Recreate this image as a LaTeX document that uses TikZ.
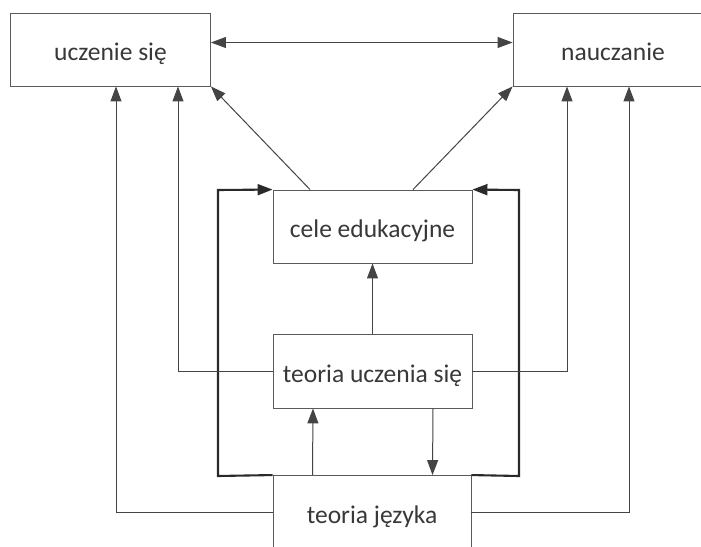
\documentclass[tikz,border=0pt]{standalone}
\usepackage{fontspec}
\setmainfont{Carlito}
\usepackage{xcolor}
\usepackage{tikz}
\usetikzlibrary{arrows.meta}
\definecolor{ramka}{HTML}{5A5A5A}
\definecolor{linia}{HTML}{444444}
\definecolor{gruba}{HTML}{2A2A2A}
\definecolor{napis}{HTML}{383838}
\tikzstyle{blok}=[rectangle, draw=ramka, line width=0.9pt, fill=white,% prostokat z tekstem
minimum width=200pt, minimum height=73pt, inner sep=0pt,
text height=22pt, text depth=0pt,
text=napis, font=\fontsize{25.5}{30}\selectfont]
\tikzstyle{strz}=[-{Triangle[length=15pt,width=11pt]}, draw=linia, line width=1pt]
\tikzstyle{petla}=[-{Triangle[length=15pt,width=11pt]}, draw=gruba, line width=2.1pt]

\begin{document}
\begin{tikzpicture}[x=1pt,y=-1pt]
\useasboundingbox (0,0) rectangle (701,546);
\clip (0,0) rectangle (701,546);
\fill[white] (0,0) rectangle (701,546);
\node[blok] (ucz) at (110.5,49.5) {uczenie się};
\node[blok] (naucz) at (613,49.5) {nauczanie};
\node[blok, minimum width=199pt] (cele) at (372.5,226.5) {cele edukacyjne};
\node[blok, minimum width=199pt, minimum height=74pt] (tuczenia) at (372.5,371) {teoria uczenia się};
\node[blok, minimum width=198pt] (tjezyka) at (372,512) {teoria języka};
% sprzezenie zwrotne (grube linie)
\draw [petla] (tjezyka.north west) -- (218,476) -- (218,190) -- (cele.north west);
\draw [petla] (tjezyka.north east) -- (519,476) -- (519,190) -- (cele.north east);
\draw [{Triangle[length=15pt,width=11pt]}-{Triangle[length=15pt,width=11pt]}, draw=linia, line width=1pt]
  ([yshift=7pt]ucz.east) -- ([yshift=7pt]naucz.west);
\draw [strz] ([xshift=-62.5pt]cele.north) -- (ucz.south east);
\draw [strz] ([xshift=40.5pt]cele.north) -- (naucz.south west);
\draw [strz] (tuczenia.north) -- (cele.south);
\draw [strz] ([xshift=-59.5pt]tjezyka.north) -- ([xshift=-59.5pt]tuczenia.south);
\draw [strz] ([xshift=60.5pt]tuczenia.south) -- ([xshift=60.5pt]tjezyka.north);
\draw [strz] (tuczenia.west) -| ([xshift=67.5pt]ucz.south);
\draw [strz] (tjezyka.west) -| ([xshift=5.5pt]ucz.south);
\draw [strz] (tuczenia.east) -| ([xshift=-46pt]naucz.south);
\draw [strz] (tjezyka.east) -| ([xshift=16pt]naucz.south);
\end{tikzpicture}
\end{document}
